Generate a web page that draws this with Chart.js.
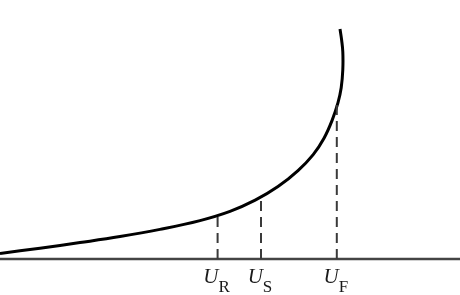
<!DOCTYPE html>
<html>
<head>
<meta charset="utf-8">
<script src="https://cdn.jsdelivr.net/npm/chart.js@4"></script>
<style>
  body { margin: 0; background: #fff; }
  #wrap { width: 460px; height: 295px; position: relative; }
</style>
</head>
<body>
<div id="wrap"><canvas id="chart"></canvas></div>
<script>
// curve (U along the axis, I upward)
const curveU = [0, 1, 2, 3, 4, 5, 5.75, 6.38, 6.95, 7.45, 7.83, 8.1, 8.3, 8.45, 8.53, 8.57, 8.57, 8.54, 8.5];
const curveI = [0.14, 0.27, 0.41, 0.56, 0.74, 0.96, 1.19, 1.47, 1.81, 2.21, 2.61, 3.02, 3.46, 3.91, 4.28, 4.73, 5.18, 5.48, 5.75];

// marked voltages
const markNames = ['R', 'S', 'F'];
const markU = [5.44, 6.525, 8.42];
const markI = [1.08, 1.56, 4.0];

const axisU = [0, 11.5];

function pts(xs, ys) {
    return xs.map((x, i) => ({ x: x, y: ys[i] }));
}

const datasets = [];
markU.forEach((u, i) => {
    datasets.push({
        data: pts([u, u], [0, markI[i]]),
        borderColor: '#3a3a3a',
        borderWidth: 2,
        borderDash: [10, 6],
        pointRadius: 0,
        showLine: true,
    });
});
datasets.push({
    data: pts(axisU, [0, 0]),
    borderColor: '#444',
    borderWidth: 2.5,
    pointRadius: 0,
    showLine: true,
});
datasets.push({
    data: pts(curveU, curveI),
    borderColor: '#000',
    borderWidth: 3,
    tension: 0.4,
    pointRadius: 0,
    showLine: true,
});

const labelPlugin = {
    id: 'u_labels',
    afterDraw: (chart) => {
        const ctx = chart.ctx;
        const xs = chart.scales.x;
        ctx.save();
        ctx.fillStyle = '#1a1a1a';
        ctx.textBaseline = 'alphabetic';
        markNames.forEach((name, i) => {
            const cx = xs.getPixelForValue(markU[i]) - 1;
            ctx.font = 'italic 21px "Liberation Serif"';
            const wU = ctx.measureText('U').width;
            ctx.font = '17px "Liberation Serif"';
            const wS = ctx.measureText(name).width;
            const left = cx - (wU + wS) / 2;
            ctx.font = 'italic 21px "Liberation Serif"';
            ctx.fillText('U', left, 283);
            ctx.font = '17px "Liberation Serif"';
            ctx.fillText(name, left + wU, 292);
        });
        ctx.restore();
    }
};

const bgPlugin = {
    id: 'white_bg',
    beforeDraw: (chart) => {
        const ctx = chart.canvas.getContext('2d');
        ctx.save();
        ctx.globalCompositeOperation = 'destination-over';
        ctx.fillStyle = 'white';
        ctx.fillRect(0, 0, chart.width, chart.height);
        ctx.restore();
    }
};

new Chart(document.getElementById('chart').getContext('2d'), {
    type: 'scatter',
    data: { datasets: datasets },
    options: {
        responsive: true,
        maintainAspectRatio: false,
        animation: false,
        layout: { padding: 0 },
        plugins: { legend: { display: false }, tooltip: { enabled: false } },
        scales: {
            x: { type: 'linear', min: 0, max: 11.5, display: false },
            y: { type: 'linear', min: -0.9, max: 6.475, display: false }
        }
    },
    plugins: [bgPlugin, labelPlugin],
});
</script>
</body>
</html>
